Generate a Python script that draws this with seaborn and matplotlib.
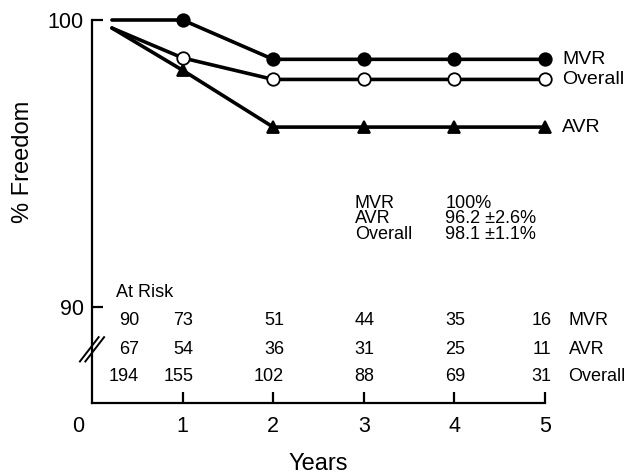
import numpy as np
import pandas as pd
import matplotlib
matplotlib.use('Agg')
import matplotlib.pyplot as plt
import matplotlib.transforms as mtransforms
import seaborn as sns

# curve data
years = [0.22, 1, 2, 3, 4, 5]
mvr = [100.0, 100.0, 98.63, 98.63, 98.63, 98.63]
avr = [99.72, 98.25, 96.27, 96.27, 96.27, 96.27]
overall = [99.72, 98.68, 97.93, 97.93, 97.93, 97.93]

# at risk table
risk_groups = ['MVR', 'AVR', 'Overall']
risk_mvr = [90, 73, 51, 44, 35, 16]
risk_avr = [67, 54, 36, 31, 25, 11]
risk_overall = [194, 155, 102, 88, 69, 31]

# summary at 5 years
summary_groups = ['MVR', 'AVR', 'Overall']
summary_vals = ['100%', '96.2 \u00b12.6%', '98.1 \u00b11.1%']

xtick_labels = ['0', '1', '2', '3', '4', '5']

sns.set_style('ticks')
plt.rcParams['font.family'] = ['Liberation Sans', 'DejaVu Sans']
plt.rcParams['text.color'] = 'black'
plt.rcParams['axes.labelcolor'] = 'black'
plt.rcParams['xtick.color'] = 'black'
plt.rcParams['ytick.color'] = 'black'

fig = plt.figure(figsize=(6.41, 4.75), dpi=100)
ax = fig.add_axes([92/641, 1-403/475, (545-92)/641, (403-20)/475])

df = pd.DataFrame({'year': years * 3,
                   'pct': mvr + avr + overall,
                   'group': ['MVR']*6 + ['AVR']*6 + ['Overall']*6})

styles = {'MVR': dict(marker='o', mfc='black', ms=9),
          'AVR': dict(marker='^', mfc='black', ms=9),
          'Overall': dict(marker='o', mfc='white', ms=9)}

for g in ['AVR', 'Overall', 'MVR']:
    d = df[df.group == g]
    sns.lineplot(data=d, x='year', y='pct', ax=ax, color='black', lw=2.6,
                 markevery=[1, 2, 3, 4, 5], mec='black', mew=1.3,
                 clip_on=False, zorder=3, **styles[g])

ax.set_xlim(0, 5)
ax.set_ylim(86.66, 100)
ax.set_xticks(range(6))
ax.set_xticklabels(xtick_labels)
ax.set_yticks([90, 100])
ax.set_yticklabels(['90', '100'])
ax.tick_params(direction='in', length=8, width=1.6, labelsize=15.5, pad=6,
               color='black', labelcolor='black')
ax.tick_params(axis='x', pad=9)
# the 0 label sits left of the corner
lbl0 = ax.get_xticklabels()[0]
lbl0.set_transform(lbl0.get_transform() + mtransforms.ScaledTranslation(-10/72, 0, fig.dpi_scale_trans))
ax.xaxis.get_major_ticks()[0].tick1line.set_visible(False)

sns.despine(ax=ax)
for s in ['left', 'bottom']:
    ax.spines[s].set_linewidth(1.6)
    ax.spines[s].set_color('black')

ax.set_xlabel('Years', fontsize=17, labelpad=12)
ax.set_ylabel('% Freedom', fontsize=17)
ax.yaxis.set_label_coords(-0.127, 0.63)

# curve end labels
ends = {'MVR': mvr[-1], 'Overall': overall[-1], 'AVR': avr[-1]}
for name, v in ends.items():
    ax.text(5.19, v, name, fontsize=14, va='center', ha='left')

# summary block
ax.text(2.90, 93.07, '\n'.join(summary_groups), fontsize=13, va='center',
        ha='left', linespacing=0.85)
ax.text(3.90, 93.07, '\n'.join(summary_vals), fontsize=13, va='center',
        ha='left', linespacing=0.85)

# at risk table
ax.text(0.27, 90.52, 'At Risk', fontsize=13, va='center', ha='left')
col_x = [0.52, 1.12, 2.12, 3.12, 4.12, 5.07]
row_y = [89.55, 88.54, 87.6]
for ry, name, row in zip(row_y, risk_groups, [risk_mvr, risk_avr, risk_overall]):
    for cx, n in zip(col_x, row):
        ax.text(cx, ry, str(n), fontsize=13, va='center', ha='right')
    ax.text(5.26, ry, name, fontsize=13, va='center', ha='left')

# axis break marks
for dx in [-0.03, 0.03]:
    ax.plot([-0.11 + dx, 0.11 + dx], [88.08, 88.98], color='black', lw=1.4,
            clip_on=False, solid_capstyle='butt')

fig.savefig('out.png', dpi=100)
